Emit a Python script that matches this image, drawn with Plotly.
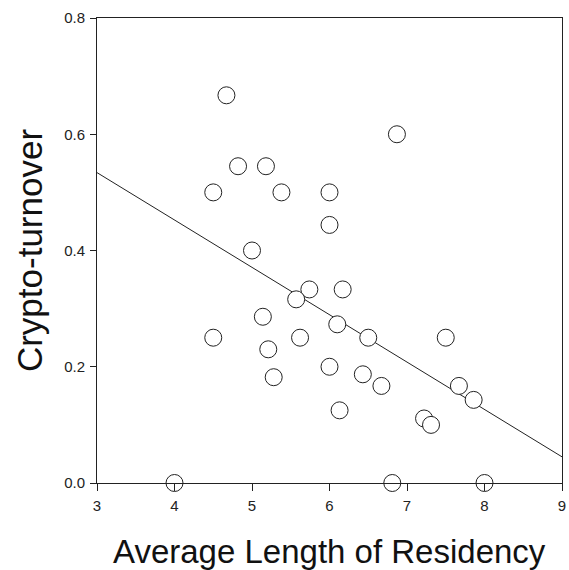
import plotly.graph_objects as go

# Average length of residency (x) and crypto-turnover (y)
residency = [4.67, 4.82, 5.18, 4.50, 5.38, 5.00, 6.87, 6.00, 6.00, 5.74, 6.17,
             5.57, 5.14, 4.50, 5.21, 5.62, 5.28, 4.00, 6.10, 6.50, 7.50, 6.00,
             6.43, 6.67, 7.67, 7.86, 6.13, 7.22, 7.31, 6.81, 8.00]
turnover = [0.667, 0.545, 0.545, 0.500, 0.500, 0.400, 0.600, 0.500, 0.444, 0.333, 0.333,
            0.316, 0.286, 0.250, 0.230, 0.250, 0.182, 0.000, 0.273, 0.250, 0.250, 0.200,
            0.187, 0.167, 0.167, 0.143, 0.125, 0.111, 0.100, 0.000, 0.000]

# Regression line endpoints
fit_x = [3, 9]
fit_y = [0.534, 0.045]

x_ticks = [3, 4, 5, 6, 7, 8, 9]
y_ticks = [0.0, 0.2, 0.4, 0.6, 0.8]
y_tick_text = ["0.0", "0.2", "0.4", "0.6", "0.8"]

FONT = "Liberation Sans, Arial, sans-serif"

fig = go.Figure()
fig.add_trace(go.Scatter(x=fit_x, y=fit_y, mode="lines",
                         line=dict(color="#222222", width=1), hoverinfo="skip",
                         showlegend=False, cliponaxis=False))
fig.add_trace(go.Scatter(x=residency, y=turnover, mode="markers",
                         marker=dict(size=17, color="white", symbol="circle",
                                     line=dict(color="#222222", width=1)),
                         showlegend=False, cliponaxis=False))

fig.update_layout(
    width=569, height=570,
    margin=dict(l=97, r=7, t=18, b=87, autoexpand=False),
    paper_bgcolor="white", plot_bgcolor="white",
    font=dict(family=FONT, color="#222222"),
    xaxis=dict(range=[3, 9], tickvals=x_ticks, ticks="outside", ticklen=7,
               tickcolor="#222222", showline=True, linecolor="#222222", linewidth=1,
               mirror=True, showgrid=False, zeroline=False, ticklabelstandoff=2,
               automargin=False,
               tickfont=dict(size=15, color="#222222", family=FONT)),
    yaxis=dict(range=[0, 0.8], tickvals=y_ticks, ticktext=y_tick_text, ticks="outside",
               ticklen=6, tickcolor="#222222", showline=True, linecolor="#222222",
               linewidth=1, mirror=True, showgrid=False, zeroline=False,
               ticklabelstandoff=2, automargin=False,
               tickfont=dict(size=15, color="#222222", family=FONT)),
    annotations=[
        dict(text="Average Length of Residency", xref="paper", yref="paper",
             x=0.5, y=-0.148, xanchor="center", yanchor="middle", showarrow=False,
             font=dict(size=33, color="#111111", family=FONT)),
        dict(text="Crypto-turnover", xref="paper", yref="paper",
             x=-0.145, y=0.5, xanchor="center", yanchor="middle", showarrow=False,
             textangle=-90, font=dict(size=35, color="#111111", family=FONT)),
    ],
)

# Remove the default 8px page margin so the 569x570 figure fills the window exactly
fig.write_html("out.html",
               config={"displayModeBar": False},
               post_script="document.body.style.margin='0';document.body.style.overflow='hidden';")
